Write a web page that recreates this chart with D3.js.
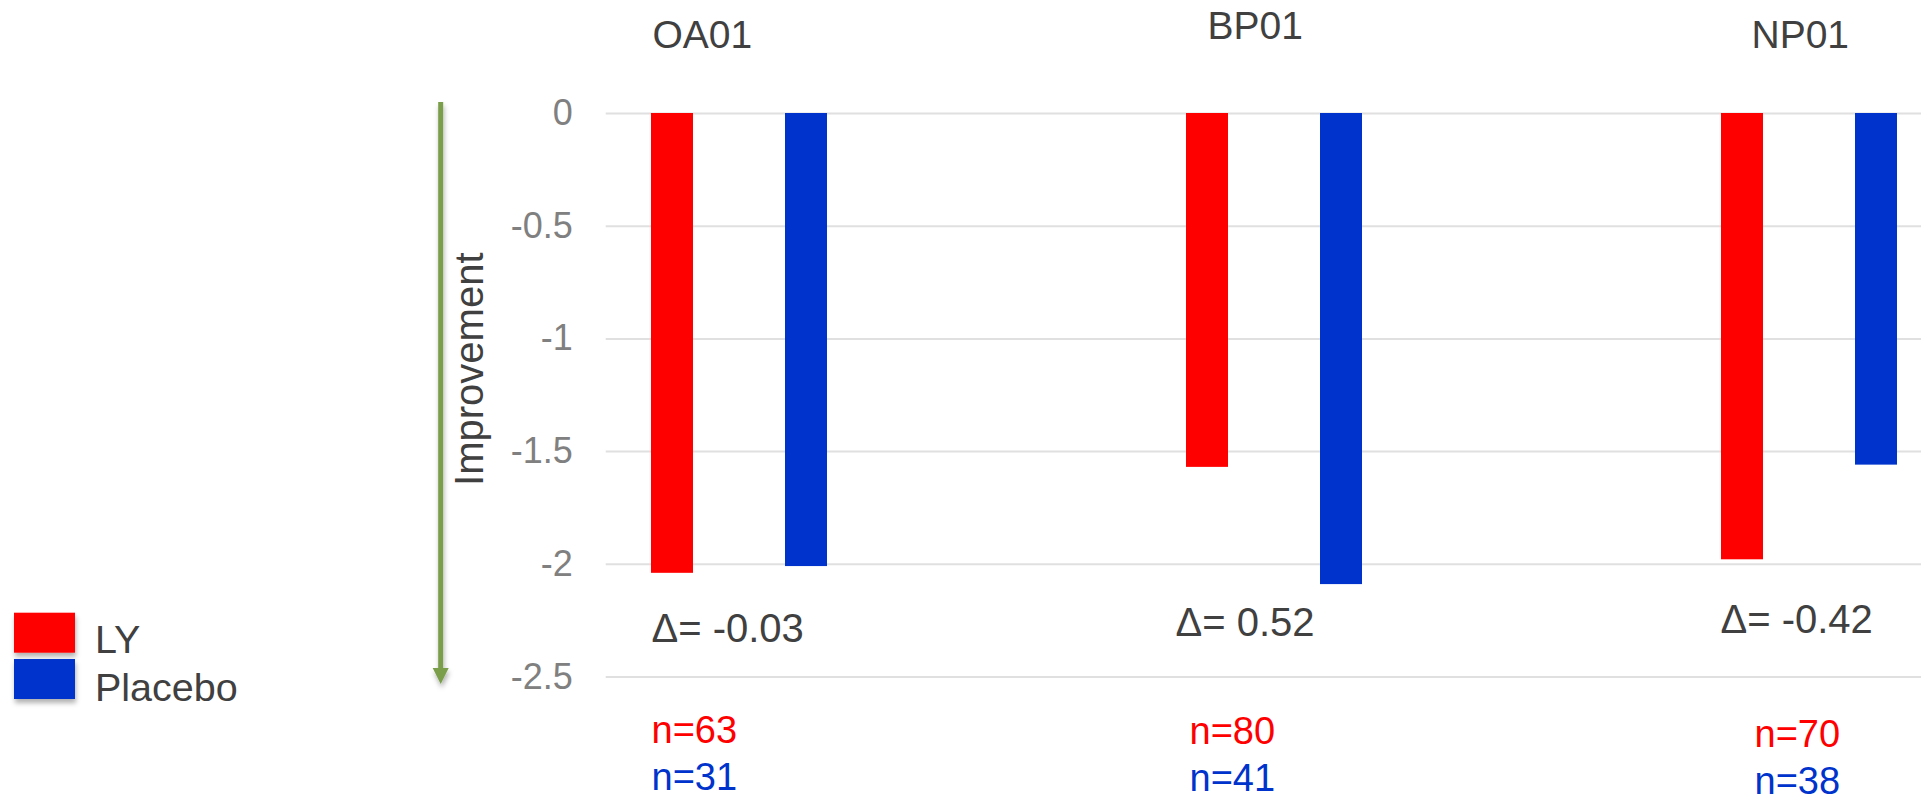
<!DOCTYPE html>
<html>
<head>
<meta charset="utf-8">
<script src="https://cdn.jsdelivr.net/npm/d3@7"></script>
<style>
  html, body { margin: 0; padding: 0; background: #ffffff; }
  svg { display: block; font-family: "Liberation Sans", Arial, sans-serif; }
</style>
</head>
<body>
<svg id="chart" width="1921" height="798"></svg>
<script>
// Study arms and mean change scores
const categories = ["OA01", "BP01", "NP01"];
const seriesNames = ["LY", "Placebo"];
const lyValues = [-2.04, -1.57, -1.98];
const placeboValues = [-2.01, -2.09, -1.56];
const lyCounts = [63, 80, 70];
const placeboCounts = [31, 41, 38];
const yTicks = [0, -0.5, -1, -1.5, -2, -2.5];
const yTitle = "Improvement";

const colors = { LY: "#ff0000", Placebo: "#0033cc" };
const textDark = "#404040";
const tickGrey = "#808080";

// Per-study label nudges (text boxes are placed by hand around each group)
const titleLayout = [{ dx: -87, y: 48 }, { dx: -67, y: 39 }, { dx: -58, y: 48 }];
const deltaLayout = [{ dx: -88, y: 642 }, { dx: -99, y: 636 }, { dx: -89, y: 633 }];
const countLayout = [{ dx: -88, y: 743 }, { dx: -85, y: 744 }, { dx: -55, y: 747 }];

const svg = d3.select("#chart");
const W = 1921;

const y = d3.scaleLinear().domain([0, -2.5]).range([113, 676.5]);
const x0 = d3.scaleBand().domain(categories).range([472, 2077]);
const x1 = d3.scaleBand().domain(seriesNames).range([179, 355]).paddingInner(0.6866);

const defs = svg.append("defs");
const shadow = defs.append("filter").attr("id", "shadow")
  .attr("x", "-20%").attr("y", "-20%").attr("width", "150%").attr("height", "160%");
shadow.append("feDropShadow").attr("dx", 1).attr("dy", 4).attr("stdDeviation", 2.5)
  .attr("flood-color", "#000").attr("flood-opacity", 0.3);

// Gridlines and tick labels
const gridLeft = 605.7;
const yAxis = d3.axisLeft(y)
  .tickValues(yTicks)
  .tickFormat(d => String(d))
  .tickSizeInner(-(W - gridLeft))
  .tickSizeOuter(0)
  .tickPadding(33);
const gAxis = svg.append("g").attr("transform", `translate(${gridLeft},0)`).call(yAxis);
gAxis.select(".domain").remove();
gAxis.selectAll(".tick line").attr("stroke", "#e0e0e0").attr("stroke-width", 2);
gAxis.selectAll(".tick text")
  .attr("fill", tickGrey)
  .attr("font-size", 36)
  .attr("font-family", "'Liberation Sans', Arial, sans-serif");

// Bars
const rows = categories.map((c, i) => ({
  cat: c, i,
  values: [{ key: "LY", v: lyValues[i] }, { key: "Placebo", v: placeboValues[i] }]
}));

const groups = svg.append("g").selectAll("g.grp").data(rows).join("g")
  .attr("class", "grp")
  .attr("transform", d => `translate(${x0(d.cat)},0)`);

groups.selectAll("rect").data(d => d.values).join("rect")
  .attr("x", d => x1(d.key))
  .attr("width", x1.bandwidth())
  .attr("y", d => y(Math.max(0, d.v)))
  .attr("height", d => Math.abs(y(d.v) - y(0)))
  .attr("fill", d => colors[d.key]);

// Study titles
const centre = c => x0(c) + x0.bandwidth() / 2;
svg.append("g").selectAll("text").data(rows).join("text")
  .attr("x", d => centre(d.cat) + titleLayout[d.i].dx)
  .attr("y", d => titleLayout[d.i].y)
  .attr("font-size", 39)
  .attr("fill", textDark)
  .text(d => d.cat);

// Treatment differences
const fmt = d3.format(".2f");
svg.append("g").selectAll("text").data(rows).join("text")
  .attr("x", d => centre(d.cat) + deltaLayout[d.i].dx)
  .attr("y", d => deltaLayout[d.i].y)
  .attr("font-size", 40)
  .attr("fill", textDark)
  .text(d => "\u0394= " + fmt(lyValues[d.i] - placeboValues[d.i]).replace("\u2212", "-"));

// Sample sizes
const nGroup = svg.append("g").selectAll("g").data(rows).join("g");
nGroup.append("text")
  .attr("x", d => centre(d.cat) + countLayout[d.i].dx)
  .attr("y", d => countLayout[d.i].y)
  .attr("font-size", 38)
  .attr("fill", colors.LY)
  .text(d => "n=" + lyCounts[d.i]);
nGroup.append("text")
  .attr("x", d => centre(d.cat) + countLayout[d.i].dx)
  .attr("y", d => countLayout[d.i].y + 47)
  .attr("font-size", 38)
  .attr("fill", colors.Placebo)
  .text(d => "n=" + placeboCounts[d.i]);

// Direction-of-improvement arrow
const arrow = svg.append("g").attr("filter", "url(#shadow)");
const ax = 440.7;
arrow.append("line")
  .attr("x1", ax).attr("x2", ax)
  .attr("y1", 102).attr("y2", 670)
  .attr("stroke", "#7a9e4a").attr("stroke-width", 5);
arrow.append("path")
  .attr("d", `M${ax - 8},668 L${ax + 8},668 L${ax},684 Z`)
  .attr("fill", "#7a9e4a");

// Axis title
svg.append("text")
  .attr("transform", `translate(483.3,369.2) rotate(-90)`)
  .attr("text-anchor", "middle")
  .attr("font-size", 40)
  .attr("fill", textDark)
  .text(yTitle);

// Legend
const legend = svg.append("g");
seriesNames.forEach((s, i) => {
  legend.append("rect")
    .attr("x", 14).attr("y", 612.7 + i * 46.3)
    .attr("width", 61).attr("height", 40)
    .attr("fill", colors[s])
    .attr("filter", "url(#shadow)");
  legend.append("text")
    .attr("x", 95).attr("y", 652.7 + i * 48)
    .attr("font-size", 39.5)
    .attr("fill", textDark)
    .text(s);
});
</script>
</body>
</html>
